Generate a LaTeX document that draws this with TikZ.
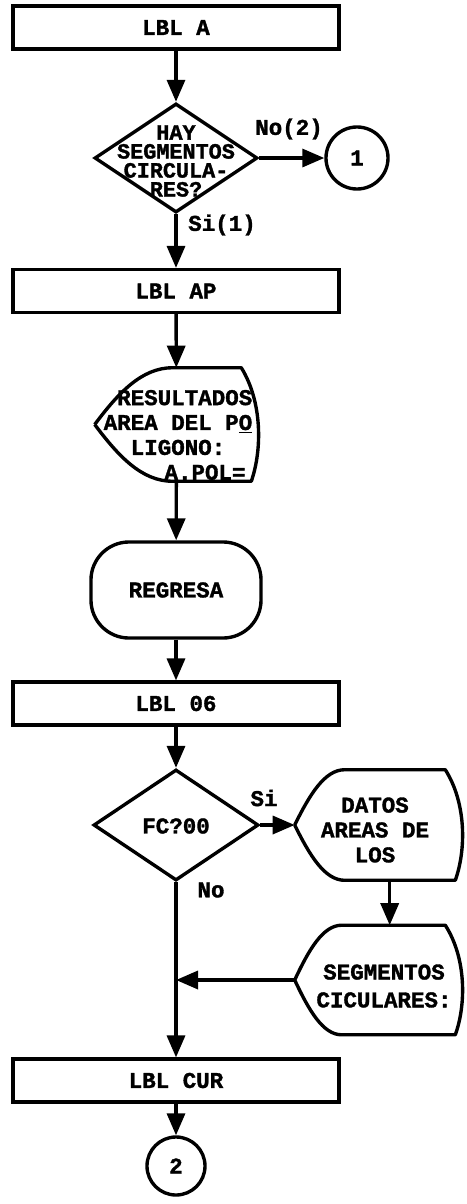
\documentclass[tikz,border=0pt]{standalone}
\usepackage{fontspec}
\setmonofont{Liberation Mono}[BoldFeatures={FakeBold=1.5}]
\usetikzlibrary{shapes.geometric, arrows.meta, calc}

\tikzset{
    linea/.style={line width=2.4pt},
    freccia/.style={linea, -{Triangle[length=0.55cm, width=0.45cm]}},
    blocco/.style={rectangle, draw, linea, minimum width=8.15cm, minimum height=1.07cm},
    decisione/.style={diamond, draw, linea, inner sep=0pt},
    cerchio/.style={circle, draw, linea, inner sep=0pt},
    terminale/.style={rectangle, draw, linea, rounded corners=0.95cm,
        minimum width=4.25cm, minimum height=2.4cm},
    schermo/.style={rectangle, inner sep=0pt},
    testo/.style={align=center, inner sep=0pt},
}

% contorno del blocco "display": #1 nodo, #2 rientro a sinistra
\newcommand{\disegnaschermo}[2]{%
    \draw[linea, line join=round] (#1.west)
        .. controls ($(#1.west)!0.55!(#1.north west)+(0.3*#2,0)$)
                and ($(#1.north west)+(0.6*#2,0)$) .. ($(#1.north west)+(#2,0)$)
        -- ($(#1.north east)+(-17,0)$)
        .. controls ($(#1.north east)!0.3!(#1.south east)+(4,0)$)
                and ($(#1.north east)!0.72!(#1.south east)+(4,0)$) .. ($(#1.south east)+(-7,0)$)
        -- ($(#1.south west)+(#2,0)$)
        .. controls ($(#1.south west)+(0.6*#2,0)$)
                and ($(#1.west)!0.55!(#1.south west)+(0.3*#2,0)$) .. (#1.west);
}

\begin{document}
\begin{tikzpicture}[x=0.025cm, y=-0.025cm,
        every node/.style={font=\ttfamily\bfseries\fontsize{16}{18}\selectfont}]
    \useasboundingbox (0,0) rectangle (467,1204);

    % Parte superiore
    \node (lbla) at (176,27.5) [blocco] {LBL A};
    \node (hay) at (176,158) [decisione, minimum width=4.075cm, minimum height=2.725cm] {};
    \node (haytxt) at (176,161) [testo, font=\ttfamily\bfseries\fontsize{15.5}{13.5}\selectfont]
        {HAY\\SEGMENTOS\\CIRCULA-\\RES?};
    \node (c1) at (357,158) [cerchio, minimum size=1.55cm] {1};
    \node (lblap) at (176,291) [blocco] {LBL AP};

    \node (res) at (176.5,424.5) [schermo, minimum width=4.075cm, minimum height=2.825cm] {};
    \node (restxt) at (178,435) [testo, font=\ttfamily\bfseries\fontsize{16}{17.7}\selectfont]
        {~RESULTADOS\\AREA DEL P\underline{O}\\LIGONO:\\~~~~A.POL=};
    \disegnaschermo{res}{78}

    \node (regresa) at (176,590) [terminale] {REGRESA};

    % Parte inferiore
    \node (lbl06) at (176,703.5) [blocco] {LBL 06};
    \node (fc) at (176,825) [decisione, minimum width=4.125cm, minimum height=2.775cm] {};
    \node (fctxt) at (176,826) [testo] {FC?00};

    \node (datos) at (378.5,825) [schermo, minimum width=4.175cm, minimum height=2.75cm] {};
    \node (datostxt) at (375,830) [testo, font=\ttfamily\bfseries\fontsize{16}{17.7}\selectfont]
        {DATOS\\AREAS DE\\LOS};
    \disegnaschermo{datos}{50}

    \node (segm) at (378.5,980) [schermo, minimum width=4.175cm, minimum height=2.725cm] {};
    \node (segmtxt) at (384,986) [testo, font=\ttfamily\bfseries\fontsize{16}{19.8}\selectfont]
        {SEGMENTOS\\CICULARES:};
    \disegnaschermo{segm}{47}

    \node (lblcur) at (176,1080.5) [blocco] {LBL CUR};
    \node (c2) at (176,1166) [cerchio, minimum size=1.45cm] {2};

    % Etichette
    \node (no1) at (289,129) {No(2)};
    \node (si1) at (222,225) {Si(1)};
    \node (si2) at (264,798) {Si};
    \node (no2) at (211,890) {No};

    % Collegamenti
    \draw[freccia] (lbla) -- (hay);
    \draw[freccia] (hay) -- (c1);
    \draw[freccia] (hay) -- (lblap);
    \draw[freccia] (lblap) -- (res);
    \draw[freccia] (res) -- (regresa);
    \draw[freccia] (regresa) -- (lbl06);
    \draw[freccia] (lbl06) -- (fc);
    \draw[freccia] (fc) -- (datos);
    \draw[freccia] ([xshift=0.28cm]datos.south) -- ([xshift=0.28cm]segm.north);
    \coordinate (unione) at (fc.south |- segm.west);
    \draw[freccia] (segm.west) -- (unione);
    \draw[freccia] (fc) -- (lblcur);
    \draw[freccia] (lblcur) -- (c2);
\end{tikzpicture}
\end{document}
